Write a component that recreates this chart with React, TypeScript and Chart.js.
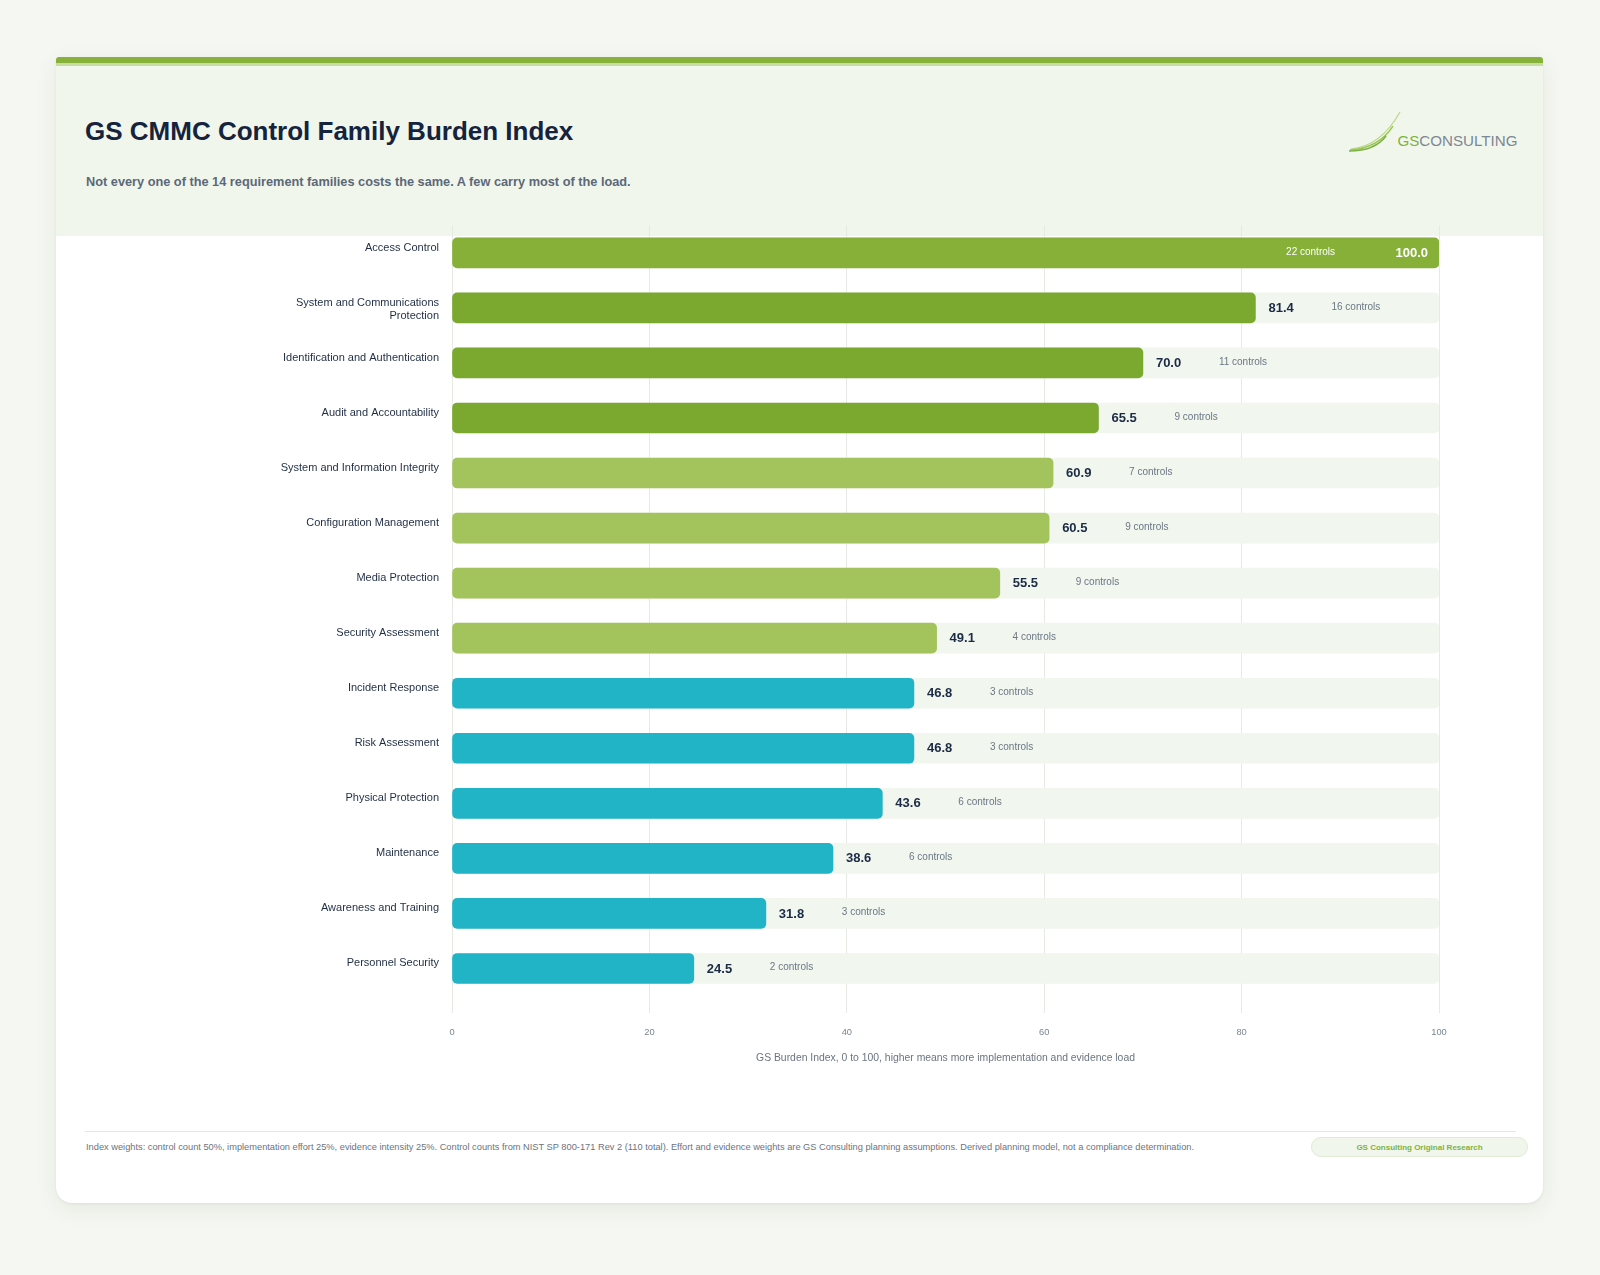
import React, { useEffect, useRef } from "react";
import { Chart, registerables } from "chart.js";

Chart.register(...registerables);

// Requirement families, ordered by burden
const families = [
  "Access Control",
  "System and Communications Protection",
  "Identification and Authentication",
  "Audit and Accountability",
  "System and Information Integrity",
  "Configuration Management",
  "Media Protection",
  "Security Assessment",
  "Incident Response",
  "Risk Assessment",
  "Physical Protection",
  "Maintenance",
  "Awareness and Training",
  "Personnel Security",
];

// GS Burden Index (0-100)
const burdenIndex = [100.0, 81.4, 70.0, 65.5, 60.9, 60.5, 55.5, 49.1, 46.8, 46.8, 43.6, 38.6, 31.8, 24.5];

// Control counts per family (NIST SP 800-171 Rev 2)
const controlCounts = [22, 16, 11, 9, 7, 9, 9, 4, 3, 3, 6, 6, 3, 2];

// Burden tier per family
const tiers = ["top", "high", "high", "high", "mid", "mid", "mid", "mid", "low", "low", "low", "low", "low", "low"];

const tierColors: Record<string, string> = {
  top: "#86b038",
  high: "#7ba930",
  mid: "#a3c45d",
  low: "#21b4c6",
};

const axisMin = 0;
const axisMax = 100;
const axisStep = 20;
const axisTitle = "GS Burden Index, 0 to 100, higher means more implementation and evidence load";

const FONT = "'Liberation Sans', Arial, Helvetica, sans-serif";

// Wrap a family name into two tick lines (second may be empty)
function wrapLabel(text: string, maxChars = 34): string[] {
  const words = text.split(" ");
  const lines: string[] = [];
  let cur = "";
  for (const w of words) {
    const next = cur ? cur + " " + w : w;
    if (next.length > maxChars && cur) {
      lines.push(cur);
      cur = w;
    } else {
      cur = next;
    }
  }
  if (cur) lines.push(cur);
  while (lines.length < 2) lines.push("");
  return lines;
}

const valueLabelsPlugin = {
  id: "valueLabels",
  afterDatasetsDraw(chart: any) {
    const meta = chart.getDatasetMeta(1);
    const ctx = chart.ctx as CanvasRenderingContext2D;
    meta.data.forEach((bar: any, i: number) => {
      const v = burdenIndex[i];
      const { x, y } = bar.getProps(["x", "y"], true);
      const countText = `${controlCounts[i]} controls`;
      ctx.save();
      ctx.textBaseline = "middle";
      if (v >= 90) {
        ctx.fillStyle = "#ffffff";
        ctx.textAlign = "right";
        ctx.font = `bold 13px ${FONT}`;
        ctx.fillText(v.toFixed(1), x - 11, y + 0.5);
        ctx.font = `10px ${FONT}`;
        ctx.fillText(countText, x - 104, y - 1);
      } else {
        ctx.textAlign = "left";
        ctx.fillStyle = "#1c2b45";
        ctx.font = `bold 13px ${FONT}`;
        ctx.fillText(v.toFixed(1), x + 13, y + 0.5);
        ctx.fillStyle = "#6b7785";
        ctx.font = `10px ${FONT}`;
        ctx.fillText(countText, x + 76, y - 1);
      }
      ctx.restore();
    });
  },
};

function BurdenChart() {
  const ref = useRef<HTMLCanvasElement | null>(null);

  useEffect(() => {
    if (!ref.current) return;
    const chart = new Chart(ref.current, {
      type: "bar",
      data: {
        labels: families.map((f) => wrapLabel(f)),
        datasets: [
          {
            label: "track",
            data: families.map(() => axisMax),
            backgroundColor: "#f1f6ee",
            borderRadius: 5,
            borderSkipped: false,
            barThickness: 30,
            grouped: false,
            order: 2,
          },
          {
            label: "GS Burden Index",
            data: burdenIndex,
            backgroundColor: tiers.map((t) => tierColors[t]),
            borderRadius: 5,
            borderSkipped: false,
            barThickness: 30,
            grouped: false,
            order: 1,
          },
        ],
      },
      options: {
        indexAxis: "y",
        responsive: false,
        animation: false,
        devicePixelRatio: 1,
        layout: { padding: { top: 10, right: 104, left: 0, bottom: 0 } },
        plugins: {
          legend: { display: false },
          tooltip: { enabled: false },
        },
        scales: {
          x: {
            type: "linear",
            min: axisMin,
            max: axisMax,
            afterFit: (s: any) => {
              s.height = 68;
            },
            border: { display: false },
            grid: {
              color: "#e7eae3",
              lineWidth: 1,
              drawTicks: true,
              tickLength: 17,
            },
            ticks: {
              stepSize: axisStep,
              padding: 14,
              color: "#7a8590",
              font: { family: FONT, size: 9.3 },
            },
            title: {
              display: true,
              text: axisTitle,
              color: "#6b7480",
              font: { family: FONT, size: 10.4 },
              padding: { top: 0, bottom: 0 },
            },
          },
          y: {
            type: "category",
            afterFit: (s: any) => {
              s.width = 396;
            },
            border: { display: false },
            grid: { display: false, drawTicks: false },
            ticks: {
              padding: 13,
              labelOffset: 1.5,
              color: "#1f2d44",
              font: { family: FONT, size: 11, lineHeight: 1.21 },
            },
          },
        },
      },
      plugins: [valueLabelsPlugin],
    } as any);
    return () => chart.destroy();
  }, []);

  return (
    <canvas
      ref={ref}
      width={1487}
      height={865}
      style={{ position: "absolute", left: 0, top: 142, width: 1487, height: 865 }}
    />
  );
}

function Logo() {
  return (
    <svg
      width={180}
      height={52}
      viewBox="0 0 180 52"
      style={{ position: "absolute", left: 1345 - 56, top: 105 - 57 }}
    >
      <path d="M6,44 Q36,41 55,7" stroke="#b9d883" strokeWidth={1.2} fill="none" />
      <path d="M5,45 Q34,43 48,21" stroke="#9cc75a" strokeWidth={1.4} fill="none" />
      <path d="M4,46 Q30,46 41,31" stroke="#7cb342" strokeWidth={1.5} fill="none" />
      <text
        x={52.5}
        y={40.5}
        fontFamily={FONT}
        fontSize={14.5}
        textLength={120}
        lengthAdjust="spacingAndGlyphs"
      >
        <tspan fill="#7cb342">GS</tspan>
        <tspan fill="#7d8793">CONSULTING</tspan>
      </text>
    </svg>
  );
}

export default function App() {
  return (
    <div
      style={{
        position: "absolute",
        left: 0,
        top: 0,
        width: 1600,
        height: 1275,
        background: "#f5f7f2",
        fontFamily: FONT,
        overflow: "hidden",
      }}
    >
      <div
        style={{
          position: "absolute",
          left: 56,
          top: 57,
          width: 1487,
          height: 1146,
          background: "#ffffff",
          borderRadius: "3px 3px 16px 16px",
          boxShadow: "0 6px 22px rgba(50,70,30,0.08), 0 1px 3px rgba(0,0,0,0.05)",
          overflow: "hidden",
        }}
      >
        <div style={{ position: "absolute", left: 0, top: 0, width: "100%", height: 179, background: "#f1f6ec" }} />
        <div style={{ position: "absolute", left: 0, top: 0, width: "100%", height: 6, background: "#87b23a" }} />
        <div style={{ position: "absolute", left: 0, top: 6, width: "100%", height: 3, background: "#c6dca3" }} />
        <div
          style={{
            position: "absolute",
            left: 29,
            top: 59,
            fontSize: 26,
            lineHeight: "30px",
            fontWeight: 700,
            color: "#15233d",
            whiteSpace: "nowrap",
          }}
        >
          GS CMMC Control Family Burden Index
        </div>
        <div
          style={{
            position: "absolute",
            left: 30,
            top: 117,
            fontSize: 12.75,
            lineHeight: "16px",
            fontWeight: 700,
            color: "#5b6878",
            whiteSpace: "nowrap",
          }}
        >
          Not every one of the 14 requirement families costs the same. A few carry most of the load.
        </div>
        <Logo />
        <BurdenChart />
        <div style={{ position: "absolute", left: 29, top: 1074, width: 1431, height: 1, background: "#e2ebd8" }} />
        <div
          style={{
            position: "absolute",
            left: 30,
            top: 1084,
            fontSize: 9.27,
            lineHeight: "12px",
            color: "#6b7480",
            whiteSpace: "nowrap",
          }}
        >
          Index weights: control count 50%, implementation effort 25%, evidence intensity 25%. Control counts from NIST SP
          800-171 Rev 2 (110 total). Effort and evidence weights are GS Consulting planning assumptions. Derived planning
          model, not a compliance determination.
        </div>
        <div
          style={{
            position: "absolute",
            left: 1255,
            top: 1080,
            width: 215,
            height: 18,
            borderRadius: 10,
            background: "#f1f6ec",
            border: "1px solid #e0ead4",
            display: "flex",
            alignItems: "center",
            justifyContent: "center",
            fontSize: 8,
            fontWeight: 700,
            color: "#7cb342",
            whiteSpace: "nowrap",
          }}
        >
          GS Consulting Original Research
        </div>
      </div>
    </div>
  );
}
